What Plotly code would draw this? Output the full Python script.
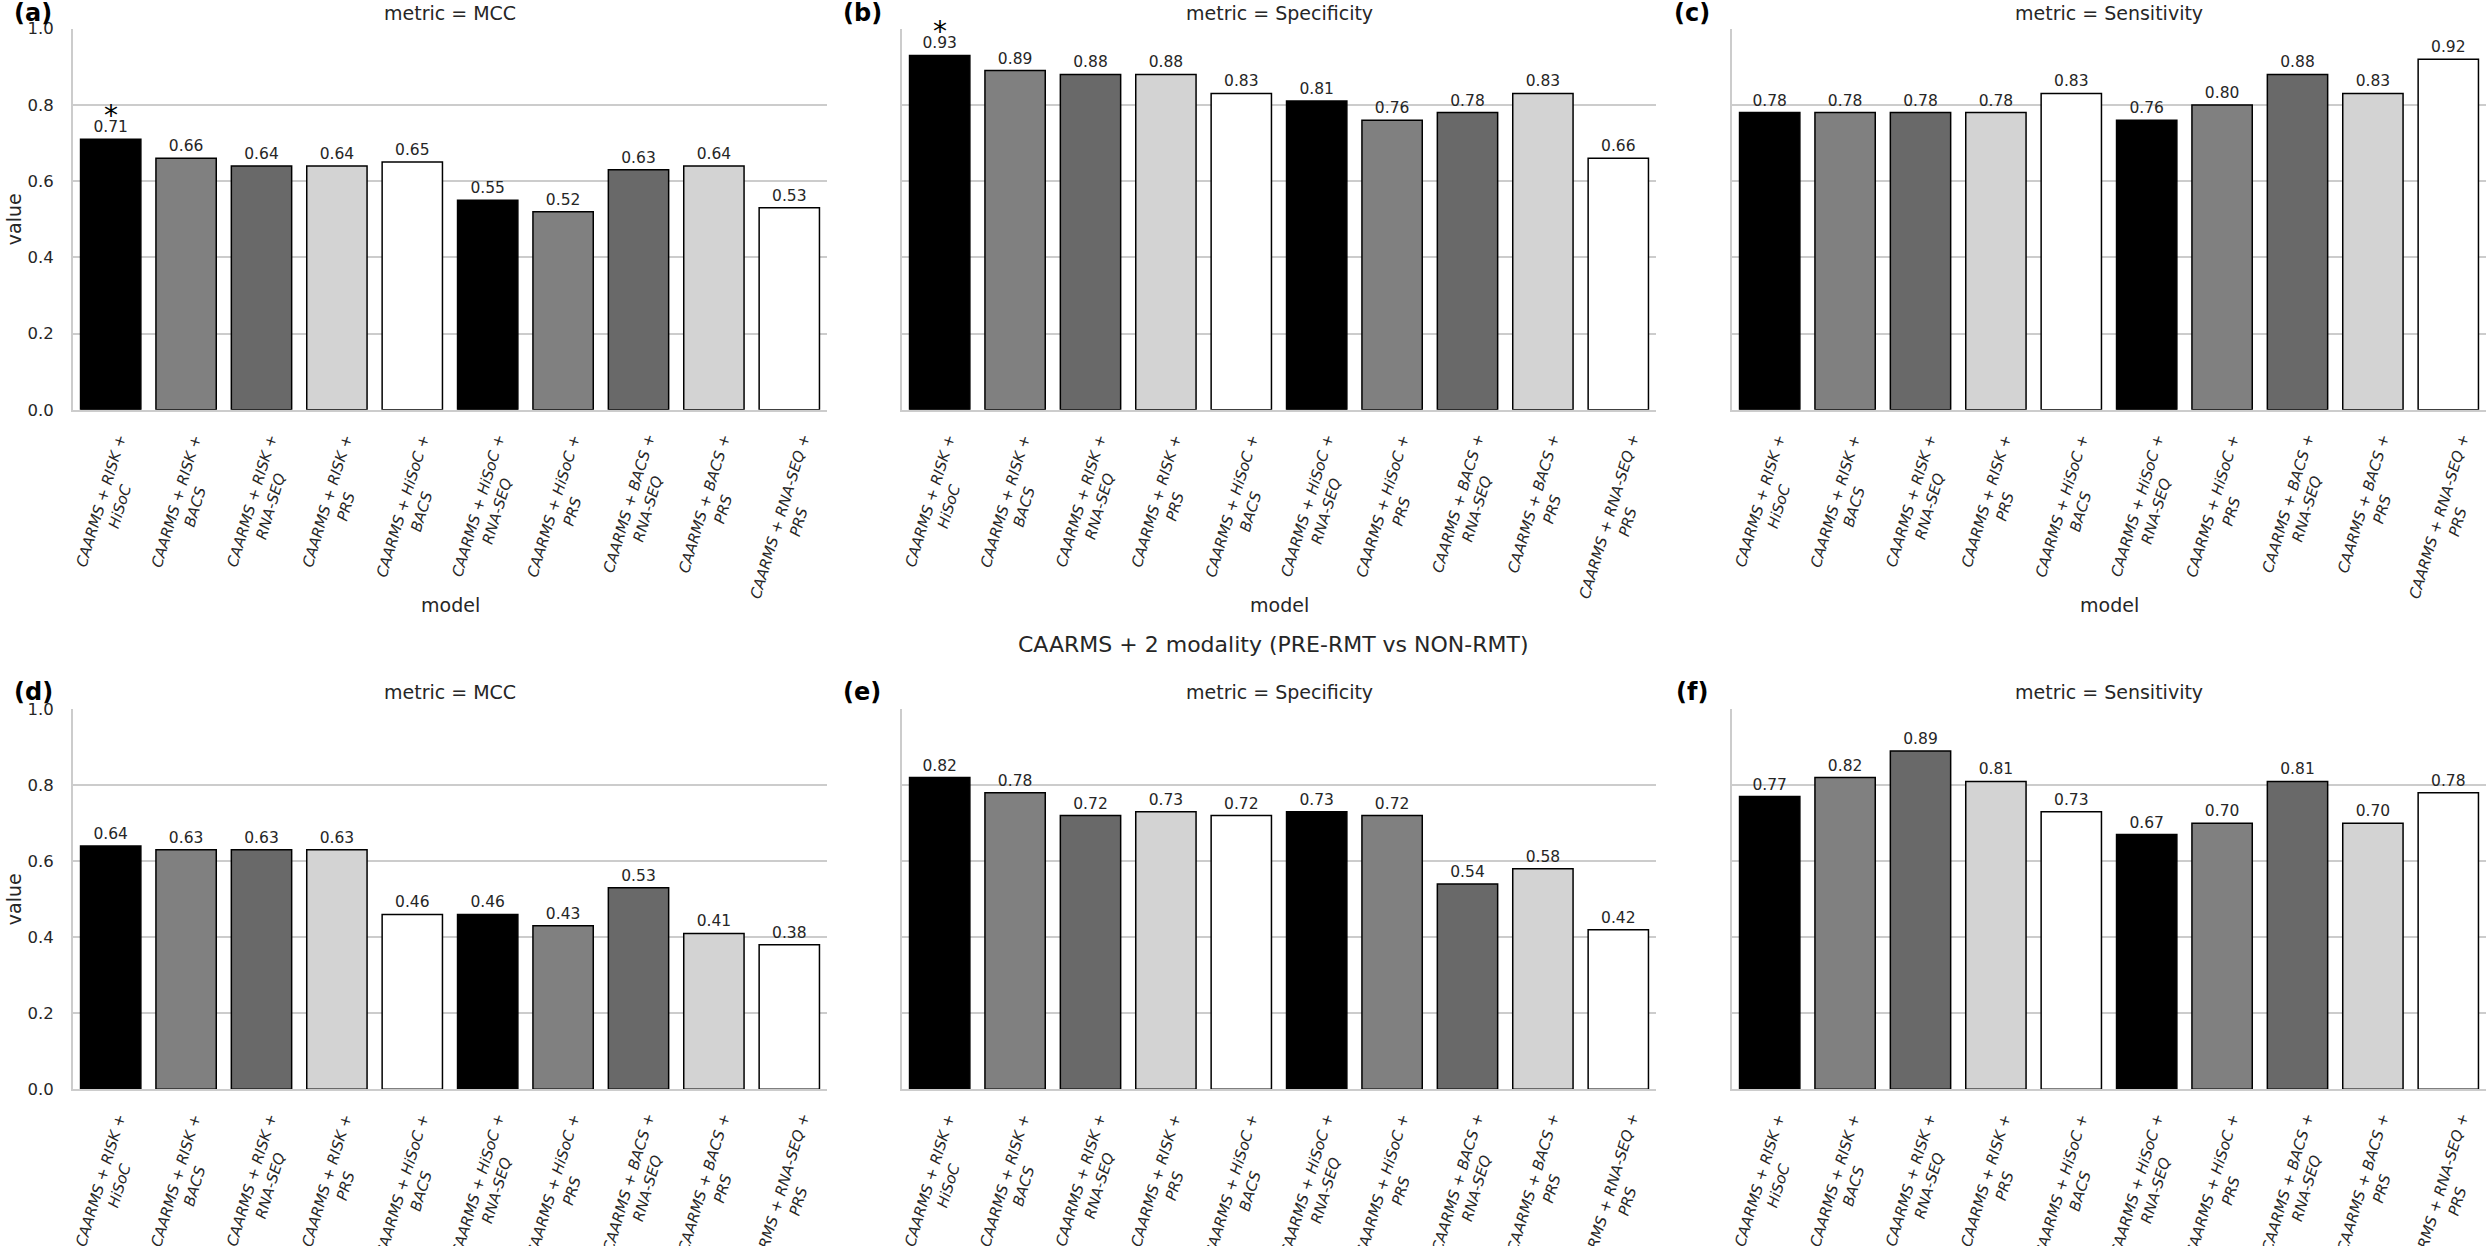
import plotly.graph_objects as go
from plotly.subplots import make_subplots

# --- dados ---
models = [
    "CAARMS + RISK + HiSoC", "CAARMS + RISK + BACS", "CAARMS + RISK + RNA-SEQ",
    "CAARMS + RISK + PRS", "CAARMS + HiSoC + BACS", "CAARMS + HiSoC + RNA-SEQ",
    "CAARMS + HiSoC + PRS", "CAARMS + BACS + RNA-SEQ", "CAARMS + BACS + PRS",
    "CAARMS + RNA-SEQ + PRS",
]
tick_labels = [
    "CAARMS + RISK +<br>HiSoC", "CAARMS + RISK +<br>BACS", "CAARMS + RISK +<br>RNA-SEQ",
    "CAARMS + RISK +<br>PRS", "CAARMS + HiSoC +<br>BACS", "CAARMS + HiSoC +<br>RNA-SEQ",
    "CAARMS + HiSoC +<br>PRS", "CAARMS + BACS +<br>RNA-SEQ", "CAARMS + BACS +<br>PRS",
    "CAARMS + RNA-SEQ +<br>PRS",
]
metrics = ["MCC", "Specificity", "Sensitivity"]
panel_tags = ["(a)", "(b)", "(c)", "(d)", "(e)", "(f)"]

top_mcc = [0.71, 0.66, 0.64, 0.64, 0.65, 0.55, 0.52, 0.63, 0.64, 0.53]
top_spec = [0.93, 0.89, 0.88, 0.88, 0.83, 0.81, 0.76, 0.78, 0.83, 0.66]
top_sens = [0.78, 0.78, 0.78, 0.78, 0.83, 0.76, 0.80, 0.88, 0.83, 0.92]
bot_mcc = [0.64, 0.63, 0.63, 0.63, 0.46, 0.46, 0.43, 0.53, 0.41, 0.38]
bot_spec = [0.82, 0.78, 0.72, 0.73, 0.72, 0.73, 0.72, 0.54, 0.58, 0.42]
bot_sens = [0.77, 0.82, 0.89, 0.81, 0.73, 0.67, 0.70, 0.81, 0.70, 0.78]

# painéis com asterisco: (índice do painel, índice do modelo)
starred = [(0, 0), (1, 0)]

suptitle = "CAARMS + 2 modality (PRE-RMT vs NON-RMT)"
y_ticks = [0.0, 0.2, 0.4, 0.6, 0.8, 1.0]

# --- aparência ---
W, H = 2492, 1246
FONT = "DejaVu Sans"
bar_colors = ["#000000", "#808080", "#696969", "#d3d3d3", "#ffffff"]
col_px = [(73, 827), (902, 1656), (1732, 2486)]
row_px = [(20, 407), (711, 1097)]
title_y = [4, 694]
grid = "#cccccc"

panels = [top_mcc, top_spec, top_sens, bot_mcc, bot_spec, bot_sens]

fig = make_subplots(rows=2, cols=3)
colors = [bar_colors[i % len(bar_colors)] for i in range(len(models))]

annotations = []
for k, vals in enumerate(panels):
    r, c = divmod(k, 3)
    xa = "x" if k == 0 else f"x{k + 1}"
    ya = "y" if k == 0 else f"y{k + 1}"
    fig.add_trace(
        go.Bar(
            x=models, y=vals, width=0.8,
            marker=dict(color=colors, line=dict(color="black", width=1.5)),
            text=[f"{v:.2f}" for v in vals], textposition="outside",
            textfont=dict(size=15.5, color="#262626", family=FONT),
            cliponaxis=False, constraintext="none",
            showlegend=False, hoverinfo="skip",
        ),
        row=r + 1, col=c + 1,
    )
    x0, x1 = col_px[c]
    y0, y1 = row_px[r]
    fig.update_layout({
        f"xaxis{k + 1}": dict(
            domain=[x0 / W, x1 / W], type="category", range=[-0.5, len(models) - 0.5],
            showticklabels=False, ticks="", showgrid=False,
            showline=True, linecolor=grid, linewidth=2,
        ),
        f"yaxis{k + 1}": dict(
            domain=[1 - y1 / H, 1 - y0 / H], range=[0, 1], tickvals=y_ticks,
            tickformat=".1f", showticklabels=(c == 0), ticks="",
            tickfont=dict(size=16.5, color="#262626"), ticklabelstandoff=14,
            showgrid=True, gridcolor=grid, gridwidth=1.5, zeroline=False,
            showline=True, linecolor=grid, linewidth=2,
        ),
    })

    # rótulos do eixo x (rotacionados, centralizados)
    for m, lab in zip(models, tick_labels):
        annotations.append(dict(
            x=m, xref=xa, y=0, yref=f"{ya} domain", yshift=-20,
            text=lab, textangle=-73, showarrow=False, align="center",
            xanchor="center", yanchor="top",
            font=dict(size=15, color="#262626", style="italic"),
        ))

    cx = (x0 + x1) / 2 / W
    annotations.append(dict(
        x=cx, y=1 - title_y[r] / H, xref="paper", yref="paper",
        text=f"metric = {metrics[c]}", showarrow=False,
        xanchor="center", yanchor="middle", font=dict(size=19, color="#262626"),
    ))
    annotations.append(dict(
        x=(x0 - 40) / W, y=1 - title_y[r] / H, xref="paper", yref="paper",
        text=f"<b>{panel_tags[k]}</b>", showarrow=False,
        xanchor="center", yanchor="middle", font=dict(size=24, color="black"),
    ))
    if r == 0:
        annotations.append(dict(
            x=cx, y=1 - 605 / H, xref="paper", yref="paper", text="model",
            showarrow=False, xanchor="center", yanchor="middle",
            font=dict(size=19, color="#262626"),
        ))
    if c == 0:
        annotations.append(dict(
            x=14 / W, y=1 - (y0 + y1) / 2 / H, xref="paper", yref="paper",
            text="value", textangle=-90, showarrow=False,
            xanchor="center", yanchor="middle", font=dict(size=19, color="#262626"),
        ))

for k, i in starred:
    xa = "x" if k == 0 else f"x{k + 1}"
    ya = "y" if k == 0 else f"y{k + 1}"
    annotations.append(dict(
        x=models[i], xref=xa, y=panels[k][i], yref=ya, yshift=24,
        text="*", showarrow=False, xanchor="center", yanchor="middle",
        font=dict(size=28, color="black"),
    ))

annotations.append(dict(
    x=1273 / W, y=1 - 645 / H, xref="paper", yref="paper", text=suptitle,
    showarrow=False, xanchor="center", yanchor="middle",
    font=dict(size=22, color="#262626"),
))

fig.update_layout(
    width=W, height=H, margin=dict(l=0, r=0, t=0, b=0),
    paper_bgcolor="white", plot_bgcolor="white",
    font=dict(family=FONT, color="#262626"),
    annotations=annotations, bargap=0.2,
)

# tira a margem padrão do <body> para a figura começar no canto
fig.write_html(
    "out.html",
    config={"displayModeBar": False},
    post_script="document.body.style.margin='0';document.body.style.overflow='hidden';",
)
